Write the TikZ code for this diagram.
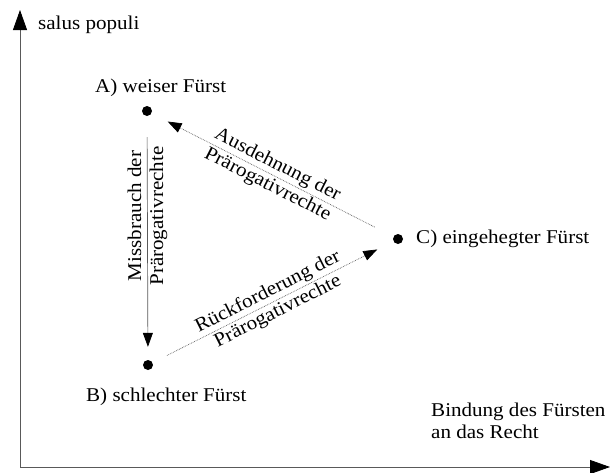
\documentclass[tikz,border=0pt]{standalone}
\usepackage{fontspec}
\setmainfont[FakeStretch=1.08]{Liberation Serif}
\usetikzlibrary{arrows.meta}
\begin{document}
\begin{tikzpicture}[x=1pt,y=-1pt,
  axis/.style={draw=black!65, line width=0.8pt, -{Triangle[length=20pt,width=14pt,color=black]}},
  flow/.style={draw=black!65, line width=0.7pt, -{Triangle[length=14pt,width=10pt,color=black]}},
  dotflow/.style={flow, densely dotted},
  dot/.style={circle, fill=black, inner sep=0pt, minimum size=10pt},
  lbl/.style={font=\fontsize{19.5}{22}\selectfont, inner sep=0pt, anchor=base west},
  elbl/.style={font=\fontsize{19.5}{22}\selectfont, align=center, inner sep=1pt}]
\useasboundingbox (0,0) rectangle (611,472);
\fill[white] (0,0) rectangle (611,472);
% axes
\coordinate (O) at (20,467);
\coordinate (Ytop) at (20,10);
\coordinate (Xend) at (610,467);
\draw[axis] (O) -- (Ytop);
\draw[axis] (O) -- (Xend);
\node[lbl] (ylab) at (38,29) {salus populi};
\node[lbl, align=left, anchor=base west] (xlab) at (431,438) {Bindung des Fürsten\\an das Recht};
% points
\node[dot] (A) at (147,111) {};
\node[dot] (B) at (148,365) {};
\node[dot] (C) at (398,239) {};
\node[lbl] (Alab) at (95,92) {A) weiser Fürst};
\node[lbl] (Blab) at (86,401) {B) schlechter Fürst};
\node[lbl] (Clab) at (416,243) {C) eingehegter Fürst};
% connectors
\draw[flow, shorten <=21pt, shorten >=13pt] (A) -- node[elbl, rotate=90, pos=0.41] (AB) {Missbrauch der\\Prärogativrechte} (B);
\draw[dotflow, shorten <=21pt, shorten >=18pt] (C) -- node[elbl, sloped, midway] (CA) {Ausdehnung der\\Prärogativrechte} (A);
\draw[dotflow, shorten <=16pt, shorten >=18pt] (B) -- node[elbl, sloped, midway] (BC) {Rückforderung der\\Prärogativrechte} (C);
\end{tikzpicture}
\end{document}
